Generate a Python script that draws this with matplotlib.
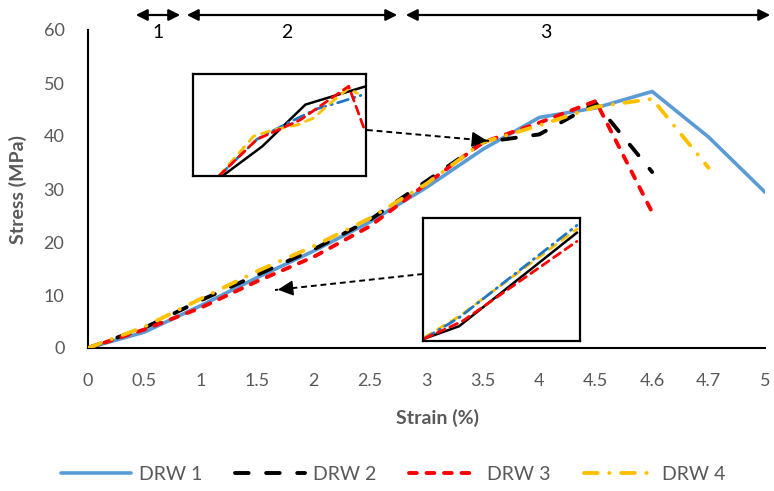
import numpy as np
import matplotlib.pyplot as plt
from matplotlib.lines import Line2D
from matplotlib.patches import FancyArrowPatch

# Donnees (axe des x en categories, comme Excel)
strain_labels = ['0', '0.5', '1', '1.5', '2', '2.5', '3', '3.5', '4', '4.5', '4.6', '4.7', '5']
drw1 = [0, 3.0, 8.0, 13.3, 18.3, 23.8, 30.3, 37.5, 43.5, 45.3, 48.4, 39.8, 29.4]
drw2 = [0, 3.8, 9.0, 13.8, 18.6, 24.2, 31.5, 38.8, 40.3, 46.2, 33.2]
drw3 = [0, 3.5, 7.6, 12.6, 17.2, 23.0, 31.0, 38.8, 42.5, 46.6, 25.6]
drw4 = [0, 4.0, 9.3, 14.5, 19.2, 24.5, 31.0, 38.8, 42.0, 45.5, 47.0, 34.0]

# Zones (1, 2, 3) au-dessus du graphique
zone_labels = ['1', '2', '3']

# Encart du haut (coordonnees normalisees dans l'encart)
top_black_x = [0.17, 0.40, 0.65, 1.0]
top_black_y = [0.0, 0.29, 0.70, 0.88]
top_blue_x = [0.15, 0.37, 0.56, 0.72, 0.86, 0.97]
top_blue_y = [0.0, 0.36, 0.53, 0.66, 0.73, 0.79]
top_red_x = [0.15, 0.37, 0.49, 0.62, 0.90, 0.99]
top_red_y = [0.0, 0.36, 0.45, 0.55, 0.88, 0.46]
top_yellow_x = [0.15, 0.35, 0.46, 0.60, 0.70, 0.77, 0.90, 0.95]
top_yellow_y = [0.0, 0.39, 0.45, 0.50, 0.57, 0.68, 0.86, 0.81]

# Encart du bas
low_black_x = [0.01, 0.23, 0.98]
low_black_y = [0.02, 0.12, 0.88]
low_blue_x = [0.01, 0.23, 0.98]
low_blue_y = [0.02, 0.19, 0.94]
low_red_x = [0.01, 0.25, 0.98]
low_red_y = [0.02, 0.16, 0.81]
low_yellow_x = [0.01, 0.23, 0.98]
low_yellow_y = [0.03, 0.20, 0.91]

plt.rcParams['font.family'] = ['Lato', 'DejaVu Sans']
gray = '#595959'
W, H = 774, 491

def fpos(x, y):
    # pixels (origine en haut a gauche) -> fraction de figure
    return (x / W, 1 - y / H)

fig = plt.figure(figsize=(7.74, 4.91), dpi=100)
ax = fig.add_axes([88 / W, 1 - 348 / H, (765 - 88) / W, (348 - 30) / H])

x = np.arange(len(strain_labels))
ax.plot(x[:len(drw1)], drw1, color='#5B9BD5', lw=2.6, solid_capstyle='round', label='DRW 1', zorder=2)
ax.plot(x[:len(drw2)], drw2, color='black', lw=2.8, ls=(0, (3.5, 4.5)), dash_capstyle='round', label='DRW 2', zorder=3)
ax.plot(x[:len(drw3)], drw3, color='#FF0000', lw=2.8, ls=(0, (2.0, 2.5)), dash_capstyle='round', label='DRW 3', zorder=4)
ax.plot(x[:len(drw4)], drw4, color='#FFC000', lw=2.8, ls=(0, (3.5, 3.0, 0.05, 3.0)), dash_capstyle='round', label='DRW 4', zorder=5)

ax.set_xlim(0, len(strain_labels) - 1)
ax.set_ylim(0, 60)
ax.set_xticks(x)
ax.set_xticklabels(strain_labels)
ax.set_yticks(range(0, 61, 10))
ax.tick_params(length=0, labelsize=13, labelcolor=gray)
ax.tick_params(axis='x', pad=18)
ax.tick_params(axis='y', pad=17)
for s in ['top', 'right']:
    ax.spines[s].set_visible(False)
for s in ['left', 'bottom']:
    ax.spines[s].set_color('black')
    ax.spines[s].set_linewidth(1.5)

fig.text(*fpos(437, 418), 'Strain (%)', ha='center', va='center', fontsize=14, fontweight='bold', color=gray)
fig.text(*fpos(18, 190), 'Stress (MPa)', ha='center', va='center', rotation=90, fontsize=14, fontweight='bold', color=gray)

fig.legend(loc='center', bbox_to_anchor=fpos(393, 474), ncol=4, frameon=False, fontsize=14,
           handlelength=3.6, handletextpad=0.41, columnspacing=1.7, labelcolor=gray)

# Fleches des zones 1, 2, 3
zone_spans = [(133, 183), (184, 400), (403, 773)]
zone_text_x = [158, 287, 546]
for (x0, x1), tx, lab in zip(zone_spans, zone_text_x, zone_labels):
    fig.add_artist(FancyArrowPatch(fpos(x0, 15), fpos(x1, 15), transform=fig.transFigure,
                                   arrowstyle='<|-|>', mutation_scale=17, color='black', lw=1.6))
    fig.text(*fpos(tx, 33), lab, ha='center', va='center', fontsize=14, color='black')

# Encarts
def inset(box, series):
    x0, y0, x1, y1 = box
    ia = fig.add_axes([x0 / W, 1 - y1 / H, (x1 - x0) / W, (y1 - y0) / H])
    for xs, ys, col, ls, lw in series:
        ia.plot(xs, ys, color=col, ls=ls, lw=lw, dash_capstyle='round')
    ia.set_xlim(0, 1)
    ia.set_ylim(0, 1)
    ia.set_xticks([])
    ia.set_yticks([])
    for s in ia.spines.values():
        s.set_linewidth(1.6)
        s.set_color('black')
    return ia

inset((193, 74, 366, 176), [
    (top_black_x, top_black_y, 'black', '-', 1.8),
    (top_blue_x, top_blue_y, '#1F77C4', (0, (4, 2, 0.5, 2)), 2.0),
    (top_yellow_x, top_yellow_y, '#FFC000', (0, (3, 2.5)), 2.0),
    (top_red_x, top_red_y, '#FF0000', (0, (3, 2)), 2.0),
])
inset((423, 218, 580, 341), [
    (low_black_x, low_black_y, 'black', '-', 1.8),
    (low_yellow_x, low_yellow_y, '#FFC000', (0, (3, 2.5)), 2.0),
    (low_blue_x, low_blue_y, '#1F77C4', (0, (4, 2, 0.5, 2)), 2.0),
    (low_red_x, low_red_y, '#FF0000', (0, (3, 2)), 2.0),
])

# Fleches pointillees vers les encarts
def dashed_arrow(p0, p1):
    (xa, ya), (xb, yb) = fpos(*p0), fpos(*p1)
    fig.add_artist(Line2D([xa, xb], [ya, yb], transform=fig.transFigure,
                          color='black', lw=1.4, ls=(0, (3, 2))))
    fig.add_artist(FancyArrowPatch((xa + (xb - xa) * 0.88, ya + (yb - ya) * 0.88), (xb, yb),
                                   transform=fig.transFigure, arrowstyle='-|>',
                                   mutation_scale=24, color='black', lw=1.0))

dashed_arrow((367, 130), (490, 141))
dashed_arrow((423, 274), (275, 290))

fig.savefig('out.png', dpi=100)
